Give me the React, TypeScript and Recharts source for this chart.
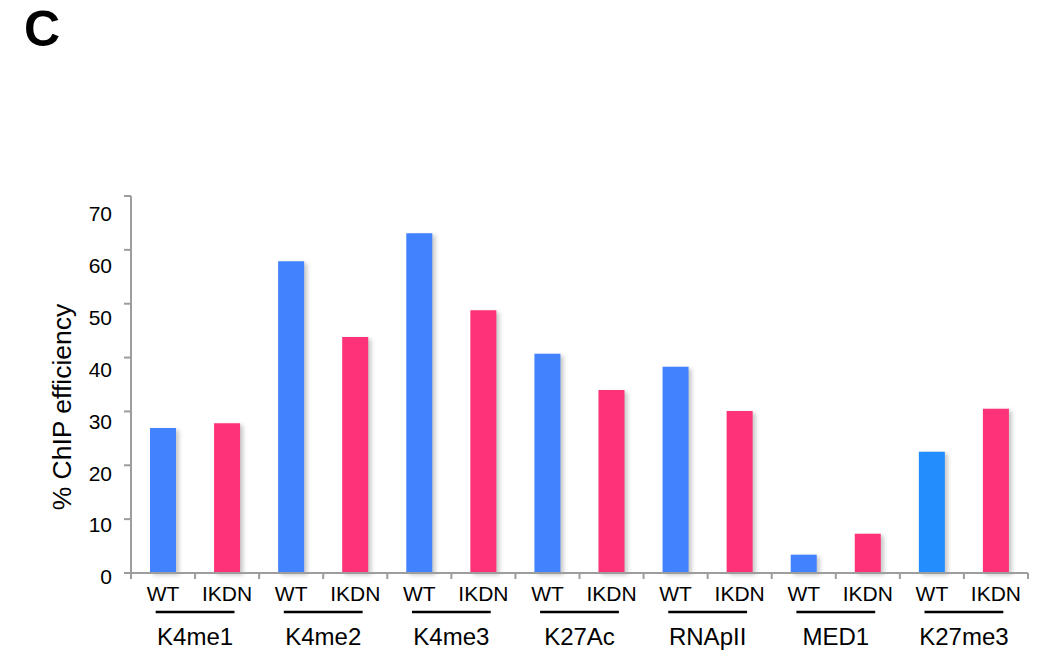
import { BarChart, Bar, XAxis, YAxis, Cell } from "recharts";

const groups = ["K4me1", "K4me2", "K4me3", "K27Ac", "RNApII", "MED1", "K27me3"];
const conditions = ["WT", "IKDN"];
const wtValues = [26.9, 57.9, 63.1, 40.7, 38.3, 3.4, 22.5];
const ikdnValues = [27.8, 43.8, 48.8, 34.0, 30.1, 7.3, 30.5];
const yTicks = [0, 10, 20, 30, 40, 50, 60, 70];

const data = groups.flatMap((g, i) => [
  { key: g + "-" + conditions[0], cond: conditions[0], group: g, value: wtValues[i] },
  { key: g + "-" + conditions[1], cond: conditions[1], group: g, value: ikdnValues[i] },
]);

const FONT = "'Liberation Sans', Arial, Helvetica, sans-serif";
const AXIS = "#9d9d9d";
const WT_COLOR = "#4282fe";
const WT_LAST = "#248dfe";
const IKDN_COLOR = "#fe3278";

const barColor = (i: number) => {
  if (i % 2 === 1) return IKDN_COLOR;
  return i === data.length - 2 ? WT_LAST : WT_COLOR;
};

const XTick = (props: any) => {
  const { x, y, payload, index, width, visibleTicksCount } = props;
  const half = payload && payload.offset ? payload.offset : width / visibleTicksCount / 2;
  const row = data[index];
  const axisY = y - 6;
  const isLast = index === data.length - 1;
  const cx = x - half;
  return (
    <g>
      <line x1={x - half} x2={x - half} y1={axisY} y2={axisY + 6} stroke={AXIS} strokeWidth={2} />
      {isLast && <line x1={x + half} x2={x + half} y1={axisY} y2={axisY + 6} stroke={AXIS} strokeWidth={2} />}
      <text x={x} y={axisY + 28} textAnchor="middle" fontSize={21} fontFamily={FONT} fill="#000">
        {row.cond}
      </text>
      {index % 2 === 1 && (
        <g>
          <line x1={cx - half * 1.23} x2={cx + half * 1.23} y1={axisY + 39} y2={axisY + 39} stroke="#000" strokeWidth={2.5} />
          <text x={cx} y={axisY + 72} textAnchor="middle" fontSize={24} fontFamily={FONT} fill="#000">
            {row.group}
          </text>
        </g>
      )}
    </g>
  );
};

const YTick = (props: any) => {
  const { x, y, payload } = props;
  const shift = 4 + (payload.value / 70) * 14;
  return (
    <text x={x} y={y + shift} dy="0.35em" textAnchor="end" fontSize={21} fontFamily={FONT} fill="#000">
      {payload.value}
    </text>
  );
};

export default function App() {
  return (
    <div style={{ position: "absolute", left: 0, top: 0, width: 1043, height: 657, background: "#fff" }}>
      <div
        style={{
          position: "absolute",
          left: 24,
          top: 4,
          lineHeight: 1,
          fontFamily: FONT,
          fontWeight: "bold",
          fontSize: 50,
          color: "#000",
        }}
      >
        C
      </div>
      <div
        style={{
          position: "absolute",
          left: 62,
          top: 407,
          transform: "translate(-50%, -50%) rotate(-90deg)",
          whiteSpace: "nowrap",
          fontFamily: FONT,
          fontSize: 26.5,
          color: "#000",
        }}
      >
        % ChIP efficiency
      </div>
      <BarChart width={1043} height={657} data={data} margin={{ top: 196, right: 15, bottom: 0, left: 0 }} barCategoryGap={0}>
        <XAxis
          dataKey="key"
          height={84}
          interval={0}
          tickLine={false}
          tickSize={6}
          tickMargin={0}
          axisLine={{ stroke: AXIS, strokeWidth: 2 }}
          tick={<XTick />}
        />
        <YAxis
          width={131}
          domain={[0, 70]}
          ticks={yTicks}
          tickSize={7}
          tickMargin={12}
          axisLine={{ stroke: AXIS, strokeWidth: 2 }}
          tickLine={{ stroke: AXIS, strokeWidth: 2 }}
          tick={<YTick />}
        />
        <Bar dataKey="value" barSize={26} isAnimationActive={false}>
          {data.map((d, i) => (
            <Cell key={d.key} fill={barColor(i)} style={{ filter: "drop-shadow(3px 2px 2px rgba(0,0,0,0.22))" }} />
          ))}
        </Bar>
      </BarChart>
    </div>
  );
}
